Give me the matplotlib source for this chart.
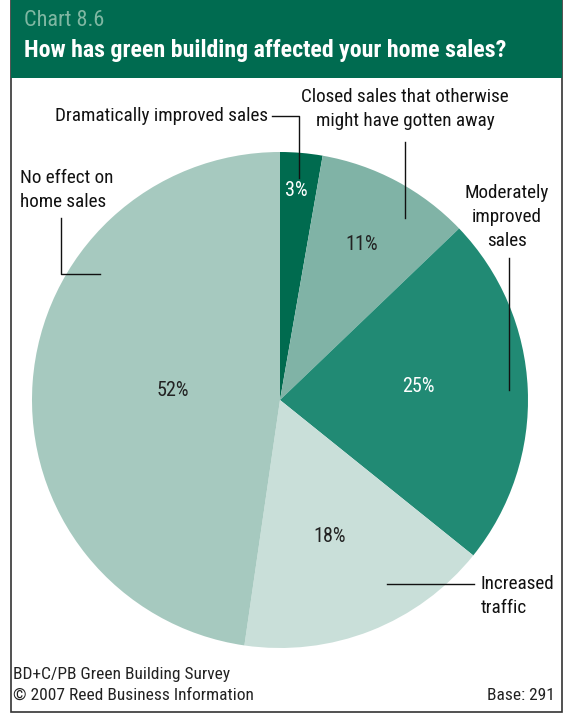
import matplotlib.pyplot as plt
from matplotlib.patches import Rectangle
from matplotlib import font_manager

# Chart 8.6 - green building and home sales
categories = ['Dramatically improved sales',
              'Closed sales that otherwise\nmight have gotten away',
              'Moderately\nimproved\nsales',
              'Increased\ntraffic',
              'No effect on\nhome sales']
values = [3, 11, 25, 18, 52]
pct_labels = ['3%', '11%', '25%', '18%', '52%']
colors = ['#006b4f', '#80b3a6', '#218a74', '#c9dfd9', '#a6c9bf']
pct_colors = ['white', '#222222', 'white', '#222222', '#222222']

names = {f.name for f in font_manager.fontManager.ttflist}
wanted = ['Roboto Condensed', 'Archivo Narrow', 'PT Sans Narrow', 'Liberation Sans Narrow',
          'Fira Sans Condensed', 'Encode Sans Condensed', 'Asap Condensed',
          'Open Sans Condensed', 'Pragati Narrow', 'DejaVu Sans']
fam = next(f for f in wanted if f in names)
plt.rcParams['font.family'] = [fam, 'DejaVu Sans']

W, H = 566, 715
fig = plt.figure(figsize=(W / 100, H / 100), dpi=100)
ax = fig.add_axes([0, 0, 1, 1])

def Y(py):
    return H - py

wedges, _ = ax.pie(values, colors=colors, startangle=90, counterclock=False,
                   center=(280, Y(400)), radius=248, frame=True,
                   wedgeprops=dict(linewidth=0))
ax.set_xlim(0, W)
ax.set_ylim(0, H)
ax.set_aspect('equal')
ax.axis('off')

# frame and header
ax.add_patch(Rectangle((11, Y(712)), 551, 712, fill=False, ec='#333333', lw=1.2))
ax.add_patch(Rectangle((11, Y(78)), 551, 78, color='#006b50', lw=0))
ax.text(24, Y(21), 'Chart 8.6', color='#7fb7a2', fontsize=16, va='center', ha='left')
ax.text(24, Y(51), 'How has green building affected your home sales?', color='white',
        fontsize=17.2, fontweight='bold', va='center', ha='left')

pct_pos = [(296, 190), (362, 245), (418, 387), (330, 537), (173, 390)]
for lab, (px, py), c in zip(pct_labels, pct_pos, pct_colors):
    ax.text(px, Y(py), lab, color=c, fontsize=14.5, ha='center', va='center')

fs = 13.8
ls = 1.4
lc = '#111111'
tc = '#111111'
# Dramatically improved sales
ax.text(268, Y(116), categories[0], fontsize=fs, ha='right', va='center', color=tc)
ax.plot([272, 299, 299], [Y(116), Y(116), Y(178)], color=lc, lw=1)
# Closed sales
ax.text(405, Y(109), categories[1], fontsize=fs, ha='center', va='center',
        color=tc, linespacing=ls)
ax.plot([405, 405], [Y(142), Y(218)], color=lc, lw=1)
# Moderately improved
ax.text(507, Y(217), categories[2], fontsize=fs, ha='center', va='center',
        color=tc, linespacing=ls)
ax.plot([509, 509], [Y(258), Y(390)], color=lc, lw=1)
# Increased traffic
ax.text(481, Y(596), categories[3], fontsize=fs, ha='left', va='center',
        color=tc, linespacing=ls)
ax.plot([387, 474], [Y(584), Y(584)], color=lc, lw=1)
# No effect
ax.text(20, Y(190), categories[4], fontsize=fs, ha='left', va='center',
        color=tc, linespacing=ls)
ax.plot([61, 61, 100], [Y(218), Y(274), Y(274)], color=lc, lw=1)

# footer
ax.text(13, Y(675), 'BD+C/PB Green Building Survey', fontsize=12.5, ha='left', va='center', color='#222222')
ax.text(13, Y(695), '\u00a9 2007 Reed Business Information', fontsize=12.5, ha='left', va='center', color='#222222')
ax.text(555, Y(695), 'Base: 291', fontsize=12.5, ha='right', va='center', color='#222222')

fig.savefig('out.png', dpi=100)
